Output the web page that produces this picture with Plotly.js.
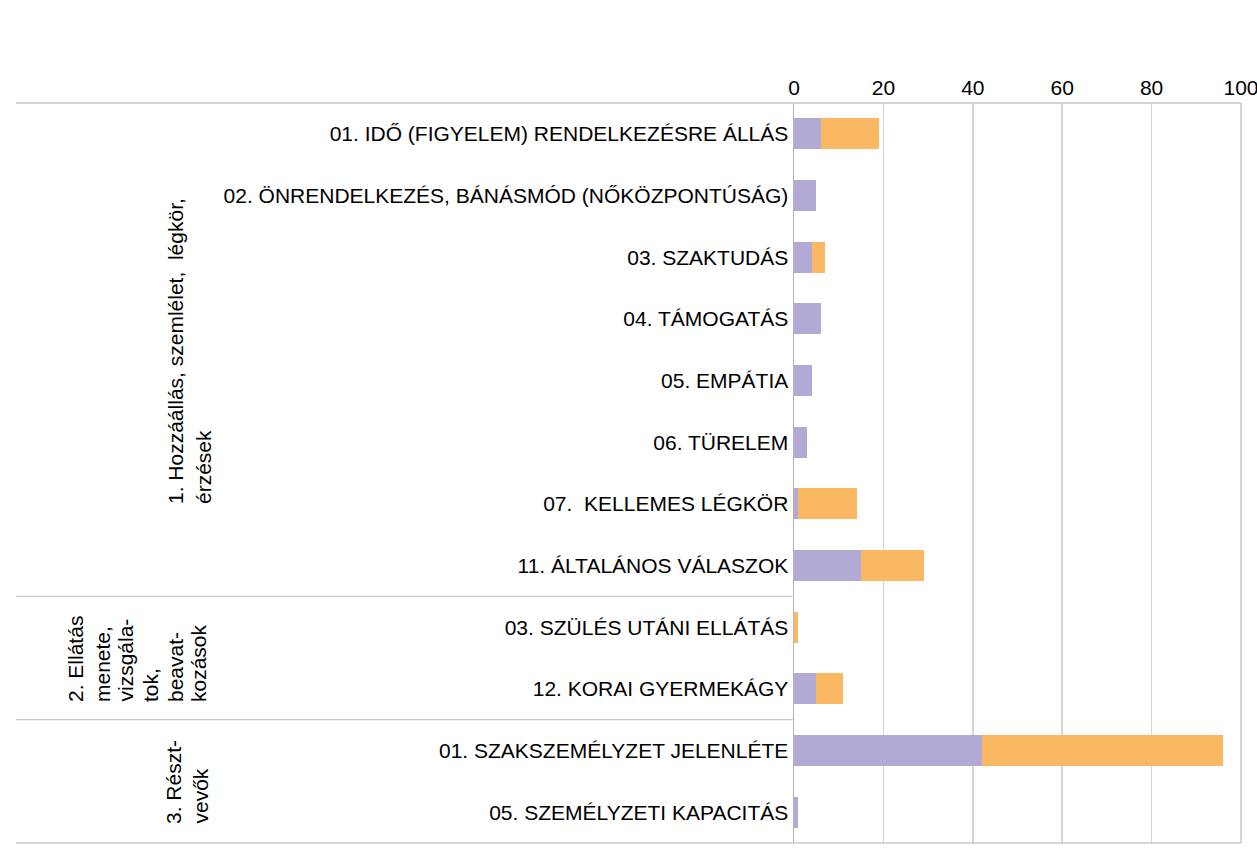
<!DOCTYPE html>
<html>
<head>
<meta charset="utf-8">
<script src="https://cdn.plot.ly/plotly-3.0.1.min.js"></script>
<style>html,body{margin:0;padding:0;background:#fff;overflow:hidden;}</style>
</head>
<body>
<div id="chart" style="width:1257px;height:853px;"></div>
<script>
const categories = [
  "01. IDŐ (FIGYELEM) RENDELKEZÉSRE ÁLLÁS",
  "02. ÖNRENDELKEZÉS, BÁNÁSMÓD (NŐKÖZPONTÚSÁG)",
  "03. SZAKTUDÁS",
  "04. TÁMOGATÁS",
  "05. EMPÁTIA",
  "06. TÜRELEM",
  "07.\u00a0 KELLEMES LÉGKÖR",
  "11. ÁLTALÁNOS VÁLASZOK",
  "03. SZÜLÉS UTÁNI ELLÁTÁS",
  "12. KORAI GYERMEKÁGY",
  "01. SZAKSZEMÉLYZET JELENLÉTE",
  "05. SZEMÉLYZETI KAPACITÁS"
];
const seriesPurple = [6, 5, 4, 6, 4, 3, 1, 15, 0, 5, 42, 1];
const seriesOrange = [13, 0, 3, 0, 0, 0, 13, 14, 1, 6, 54, 0];
const groupLines = [
  ["1. Hozzáállás, szemlélet,\u00a0 légkör,", "érzések"],
  ["2. Ellátás", "menete,", "vizsgála-", "tok,", "beavat-", "kozások"],
  ["3. Részt-", "vevők"]
];
const xTicks = [0, 20, 40, 60, 80, 100];

const FONT = "Liberation Sans, Arial, sans-serif";
const traces = [
  {type: "bar", orientation: "h", y: categories, x: seriesPurple,
   marker: {color: "#b2aad4"}, hoverinfo: "x+y", name: "A"},
  {type: "bar", orientation: "h", y: categories, x: seriesOrange,
   marker: {color: "#fbb862"}, hoverinfo: "x+y", name: "B"}
];

// paper coordinates based on plot area (x: 794..1241, y: 103..843)
const px = v => (v - 794) / 447;
const py = v => (843 - v) / 740;
const lineColor = "#c8c8c8";
const shapes = [
  {type: "line", xref: "paper", yref: "paper", x0: px(16), x1: 1, y0: 1, y1: 1, line: {color: lineColor, width: 1.5}},
  {type: "line", xref: "paper", yref: "paper", x0: px(16), x1: 1, y0: 0, y1: 0, line: {color: lineColor, width: 1.5}},
  {type: "line", xref: "paper", yref: "y", x0: px(16), x1: 0, y0: 7.5, y1: 7.5, line: {color: lineColor, width: 1.2}},
  {type: "line", xref: "paper", yref: "y", x0: px(16), x1: 0, y0: 9.5, y1: 9.5, line: {color: lineColor, width: 1.2}},
  {type: "line", xref: "paper", yref: "paper", x0: 1, x1: 1, y0: 0, y1: 1, line: {color: lineColor, width: 1.5}}
];

// line positions (pixel x centre of each rotated line, pixel y of its baseline start)
const groupLineX = [[175, 203], [75, 102, 125, 150, 175, 198], [173, 200]];
const groupBottom = [505, 703, 825];
const annotations = [];
groupLines.forEach((lines, g) => {
  lines.forEach((t, i) => {
    annotations.push({
      text: t, xref: "paper", yref: "paper",
      x: px(groupLineX[g][i]), y: py(groupBottom[g]),
      textangle: -90, showarrow: false, xanchor: "center", yanchor: "bottom",
      borderpad: 0,
      font: {family: FONT, size: 21, color: "#000"}
    });
  });
});

const layout = {
  width: 1257, height: 853,
  margin: {l: 794, r: 16, t: 103, b: 10, pad: 0},
  paper_bgcolor: "#fff", plot_bgcolor: "#fff",
  barmode: "stack", bargap: 0.5,
  showlegend: false,
  font: {family: FONT, size: 21, color: "#000"},
  xaxis: {
    side: "top", range: [0, 100], tickvals: xTicks, ticktext: xTicks.map(String),
    showgrid: true, gridcolor: "#d4d4d4", gridwidth: 1.5, zeroline: false,
    showline: false, ticks: "", ticklabelstandoff: 3, ticklabeloverflow: "allow",
    tickfont: {family: FONT, size: 21, color: "#000"},
    fixedrange: true
  },
  yaxis: {
    type: "category", categoryorder: "array", categoryarray: categories,
    autorange: "reversed", showgrid: false, zeroline: false,
    showline: true, linecolor: "#b3b3b3", linewidth: 1.5,
    ticks: "", tickfont: {family: FONT, size: 21, color: "#000"},
    fixedrange: true
  },
  shapes: shapes,
  annotations: annotations
};

Plotly.newPlot("chart", traces, layout, {displayModeBar: false, staticPlot: true});
</script>
</body>
</html>
